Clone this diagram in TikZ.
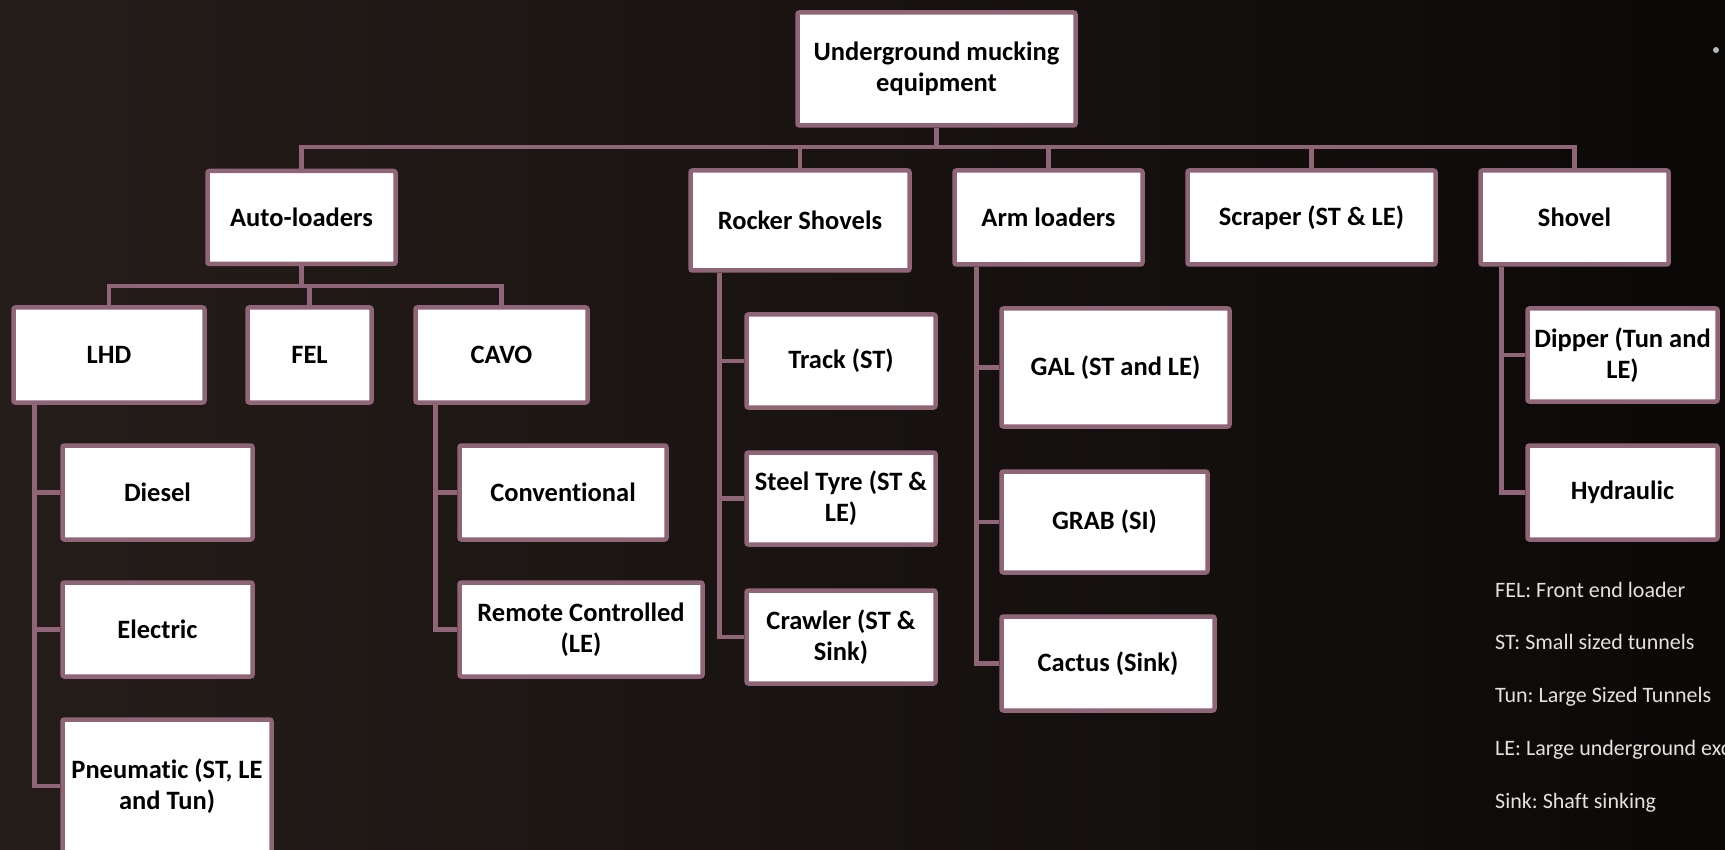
\documentclass[tikz,border=0pt]{standalone}
\usepackage{fontspec}
\setmainfont{Carlito}[Ligatures=NoCommon]
\frenchspacing
\usetikzlibrary{positioning, calc}
\definecolor{malva}{HTML}{8F6577}
\definecolor{fondo}{HTML}{251D1A}
\definecolor{fondonegro}{HTML}{0B0908}
\definecolor{leyenda}{HTML}{E6E1DC}
\tikzset{
  caja/.style 2 args={draw=malva, fill=white, text=black, line width=4.5pt, rounded corners=2pt,
    font=\fontsize{26.5}{31}\selectfont\bfseries, align=center, inner sep=2pt,
    minimum width=#1, minimum height=#2},
  enlace/.style={draw=malva, line width=4.5pt},
  nota/.style={text=leyenda, anchor=west, inner sep=3pt, font=\fontsize{22}{26}\selectfont},
}

\begin{document}
\begin{tikzpicture}[x=1pt, y=-1pt]
  % fondo y recorte
  \useasboundingbox (0,0) rectangle (1725,850);
  \shade[left color=fondo, right color=fondonegro] (0,0) rectangle (1725,850);
  \clip (0,0) rectangle (1725,850);
  \fill[gray!55] (1716,50) circle (3pt);

  % nivel 0 y 1
  \node[caja={278pt}{113pt}] (root) at (936.5,69) {Underground mucking\\equipment};
  \node[caja={188pt}{93pt}] (auto) at (301.5,217.5) {Auto-loaders};
  \node[caja={219pt}{100pt}] (rocker) at (800,220.5) {Rocker Shovels};
  \node[caja={188pt}{94pt}] (arm) at (1048.5,217.5) {Arm loaders};
  \node[caja={248pt}{94pt}] (scraper) at (1311.5,217.5) {Scraper (ST \& LE)};
  \node[caja={188pt}{94pt}] (shovel) at (1574.5,217.5) {Shovel};

  % auto-loaders
  \node[caja={191pt}{95pt}] (lhd) at (109,355) {LHD};
  \node[caja={124pt}{95pt}] (fel) at (309.5,355) {FEL};
  \node[caja={172pt}{95pt}] (cavo) at (501.5,355) {CAVO};
  \node[caja={190pt}{94pt}] (diesel) at (157.5,492.5) {Diesel};
  \node[caja={190pt}{94pt}] (electric) at (157.5,629.5) {Electric};
  \node[caja={209pt}{133pt}] (pneu) at (167,786) {Pneumatic (ST, LE\\and Tun)};
  \node[caja={207pt}{94pt}] (conv) at (563,492.5) {Conventional};
  \node[caja={243pt}{94pt}] (remote) at (581,629.5) {Remote Controlled\\(LE)};

  % rocker shovels
  \node[caja={189pt}{93pt}] (track) at (841,361) {Track (ST)};
  \node[caja={189pt}{92pt}] (steel) at (841,498.5) {Steel Tyre (ST \&\\LE)};
  \node[caja={189pt}{93pt}] (crawler) at (841,637) {Crawler (ST \&\\Sink)};

  % arm loaders
  \node[caja={228pt}{118pt}] (gal) at (1115.5,367.5) {GAL (ST and LE)};
  \node[caja={206pt}{101pt}] (grab) at (1104.5,522) {GRAB (SI)};
  \node[caja={213pt}{94pt}] (cactus) at (1108,663.5) {Cactus (Sink)};

  % shovel
  \node[caja={190pt}{93pt}] (dipper) at (1622.5,355) {Dipper (Tun and\\LE)};
  \node[caja={190pt}{94pt}] (hydraulic) at (1622.5,492.5) {Hydraulic};

  % conectores
  \coordinate (bus) at (0,147);
  \coordinate (subbus) at (0,286);
  \draw[enlace] (root.south) -- (root.south |- bus);
  \foreach \n in {auto,rocker,arm,scraper,shovel}
    \draw[enlace] (\n.north) |- (root.south |- bus);
  \draw[enlace] (auto.south) -- (auto.south |- subbus);
  \foreach \n in {lhd,fel,cavo}
    \draw[enlace] (\n.north) |- (auto.south |- subbus);
  \foreach \n in {diesel,electric,pneu}
    \draw[enlace] ([xshift=23pt]lhd.south west) |- (\n.west);
  \foreach \n in {conv,remote}
    \draw[enlace] ([xshift=22pt]cavo.south west) |- (\n.west);
  \foreach \n in {track,steel,crawler}
    \draw[enlace] ([xshift=31pt]rocker.south west) |- (\n.west);
  \foreach \n in {gal,grab,cactus}
    \draw[enlace] ([xshift=24pt]arm.south west) |- (\n.west);
  \foreach \n in {dipper,hydraulic}
    \draw[enlace] ([xshift=23pt]shovel.south west) |- (\n.west);

  % leyenda
  \foreach \y/\t [count=\i] in {590/FEL: Front end loader, 642/ST: Small sized tunnels,
      697/Tun: Large Sized Tunnels, 750/LE: Large underground excavations, 803/Sink: Shaft sinking}
    \node[nota] (nota\i) at (1492,\y) {\t};
\end{tikzpicture}
\end{document}
